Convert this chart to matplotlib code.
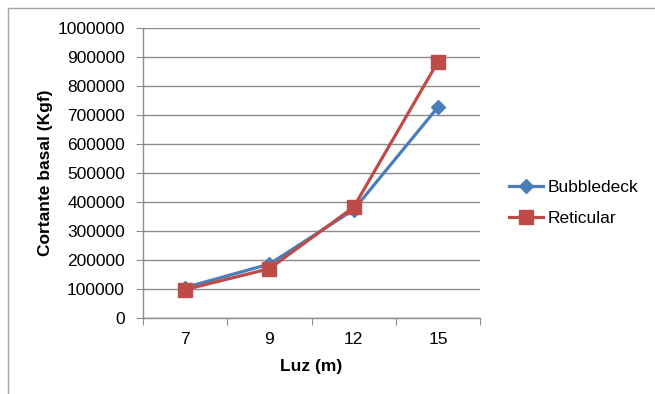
import matplotlib
matplotlib.use("Agg")
import matplotlib.pyplot as plt
from matplotlib.lines import Line2D
import numpy as np

categories = ["7", "9", "12", "15"]
bubbledeck = [105000, 186000, 373000, 727000]
reticular = [98000, 170000, 382000, 883000]
y_ticks = [0, 100000, 200000, 300000, 400000, 500000, 600000, 700000, 800000, 900000, 1000000]

plt.rcParams['font.family'] = ['Liberation Sans', 'DejaVu Sans']

W, H = 655, 394
fig = plt.figure(figsize=(W / 100, H / 100), dpi=100)
L, R, T, B = 143, 480, 28, 318
ax = fig.add_axes([L / W, 1 - B / H, (R - L) / W, (B - T) / H])

x = np.arange(len(categories))
blue = "#4a7ebb"
red = "#be4b48"
ax.plot(x, bubbledeck, color=blue, lw=2.3, marker="D", markersize=7,
        label="Bubbledeck", zorder=3)
ax.plot(x, reticular, color=red, lw=2.3, marker="s", markersize=10,
        label="Reticular", zorder=4)

ax.set_xlim(-0.5, len(categories) - 0.5)
ax.set_ylim(0, 1000000)
ax.set_yticks(y_ticks)
ax.set_yticklabels([str(v) for v in y_ticks])
ax.set_xticks(np.arange(-0.5, len(categories), 1.0))
ax.set_xticklabels([])
ax.set_xticks(x, labels=categories, minor=True)

gc = "#8c8c8c"
ax.grid(axis="y", color=gc, lw=1.0)
ax.set_axisbelow(True)
for s in ["top", "right"]:
    ax.spines[s].set_visible(False)
for s in ["left", "bottom"]:
    ax.spines[s].set_color(gc)
    ax.spines[s].set_linewidth(1.0)
ax.tick_params(axis="y", which="major", length=5, color=gc, labelsize=12.5, pad=8)
ax.tick_params(axis="x", which="major", length=5, color=gc)
ax.tick_params(axis="x", which="minor", length=0, labelsize=12.5, pad=10)

ax.set_xlabel("Luz (m)", fontsize=12.5, fontweight="bold", labelpad=9)
ax.set_ylabel("Cortante basal (Kgf)", fontsize=12.5, fontweight="bold", labelpad=3)

leg = ax.legend(loc="center left", bbox_to_anchor=(493 / W, 1 - 203 / H),
                bbox_transform=fig.transFigure, frameon=False, fontsize=12.5,
                handlelength=2.0, handletextpad=0.25, labelspacing=0.95)

fig.add_artist(Line2D([8 / W, 1], [1 - 8 / H, 1 - 8 / H], transform=fig.transFigure,
                      color="#a6a6a6", lw=1.0))
fig.add_artist(Line2D([8 / W, 8 / W], [0, 1 - 8 / H], transform=fig.transFigure,
                      color="#a6a6a6", lw=1.0))

fig.savefig("out.png", dpi=100)
